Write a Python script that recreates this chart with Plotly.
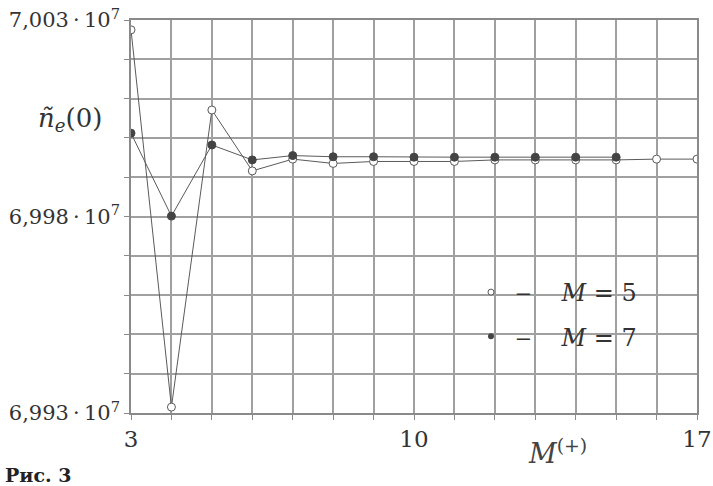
import plotly.graph_objects as go

# M(+) values on the x axis
m_plus_5 = list(range(3, 18))
m_plus_7 = list(range(3, 16))

# n_e(0), in units of 1e7
ne_m5 = [7.00275, 6.99315, 7.00071, 6.99916, 6.99946, 6.99935, 6.99940, 6.99940,
         6.99940, 6.99944, 6.99944, 6.99944, 6.99944, 6.99946, 6.99946]
ne_m7 = [7.00012, 6.99801, 6.99982, 6.99944, 6.99955, 6.99952, 6.99952, 6.99951,
         6.99951, 6.99951, 6.99951, 6.99951, 6.99951]
SCALE = 1e7

y_ticks = [6.993 + 0.001 * k for k in range(11)]
y_labels = {6.993: "6,993\u2009·\u200910<sup>7</sup>",
            6.998: "6,998\u2009·\u200910<sup>7</sup>",
            7.003: "7,003\u2009·\u200910<sup>7</sup>"}
x_ticks = list(range(3, 18))
x_labels = {3: "3", 10: "10", 17: "17"}

SERIF = "DejaVu Serif, serif"
LINE = "#5a5a5a"
GRID = "#a0a0a0"
TEXT = "#333333"

fig = go.Figure()

# curves
fig.add_trace(go.Scatter(x=m_plus_5, y=[v * SCALE for v in ne_m5], mode="lines+markers",
                         line=dict(color=LINE, width=1),
                         marker=dict(symbol="circle", size=8, color="white",
                                     line=dict(color=LINE, width=1)),
                         showlegend=False))
fig.add_trace(go.Scatter(x=m_plus_7, y=[v * SCALE for v in ne_m7], mode="lines+markers",
                         line=dict(color=LINE, width=1),
                         marker=dict(symbol="circle", size=8, color="#444444",
                                     line=dict(color="#444444", width=1)),
                         showlegend=False))

# legend entries (symbol only)
dash_gap = "\u2009\u2012" + "\u00a0" * 4
fig.add_trace(go.Scatter(x=[None], y=[None], mode="markers", legendgroup="a",
                         marker=dict(symbol="circle", size=6, color="white",
                                     line=dict(color=LINE, width=1)),
                         name=dash_gap + "<i>M</i>\u00a0=\u00a05"))
fig.add_trace(go.Scatter(x=[None], y=[None], mode="markers", legendgroup="b",
                         marker=dict(symbol="circle", size=6, color="#444444"),
                         name=dash_gap + "<i>M</i>\u00a0=\u00a07"))

# white box behind legend, hiding grid
fig.add_shape(type="rect", xref="paper", yref="paper",
              x0=0.575, x1=0.927, y0=0.140, y1=0.382,
              fillcolor="white", line=dict(width=0), layer="between")

axis_common = dict(showgrid=True, gridcolor=GRID, gridwidth=1.5, automargin=False,
                   showline=True, linecolor="#8a8a8a", linewidth=1.5, mirror=True,
                   ticks="outside", ticklen=5, tickcolor="#8a8a8a", zeroline=False,
                   ticklabelstandoff=0)

fig.update_xaxes(range=[3, 17], tickvals=x_ticks,
                 ticktext=[x_labels.get(v, "") for v in x_ticks],
                 tickfont=dict(family=SERIF, size=23, color=TEXT), **axis_common)
fig.update_yaxes(range=[6.993 * SCALE, 7.003 * SCALE],
                 tickvals=[v * SCALE for v in y_ticks],
                 ticktext=[y_labels.get(round(v, 3), "") for v in y_ticks],
                 tickfont=dict(family=SERIF, size=21, color=TEXT), **axis_common)

fig.add_annotation(xref="paper", yref="paper", x=-0.108, y=0.746,
                   xanchor="center", yanchor="middle", showarrow=False,
                   text="<i>ñ</i><sub><i>e</i></sub>(0)",
                   font=dict(family=SERIF, size=26, color=TEXT))
fig.add_annotation(xref="paper", yref="paper", x=0.698, y=-0.099,
                   xanchor="left", yanchor="middle", showarrow=False,
                   text="<i>M</i><sup>(+)</sup>",
                   font=dict(family=SERIF, size=27, color="#444444"))
fig.add_annotation(xref="paper", yref="paper", x=-0.227, y=-0.158,
                   xanchor="left", yanchor="middle", showarrow=False,
                   text="<b>Рис. 3</b>",
                   font=dict(family=SERIF, size=19, color="#222222"))

fig.update_layout(width=713, height=486,
                  margin=dict(l=131, r=16, t=20, b=73),
                  paper_bgcolor="white", plot_bgcolor="white",
                  legend=dict(x=0.6007, y=0.2506, xanchor="left", yanchor="middle",
                              bgcolor="rgba(0,0,0,0)", tracegroupgap=10,
                              font=dict(family=SERIF, size=24, color=TEXT)))

fig.write_html("out.html", config={"displayModeBar": False},
               post_script="document.body.style.margin='0';")
